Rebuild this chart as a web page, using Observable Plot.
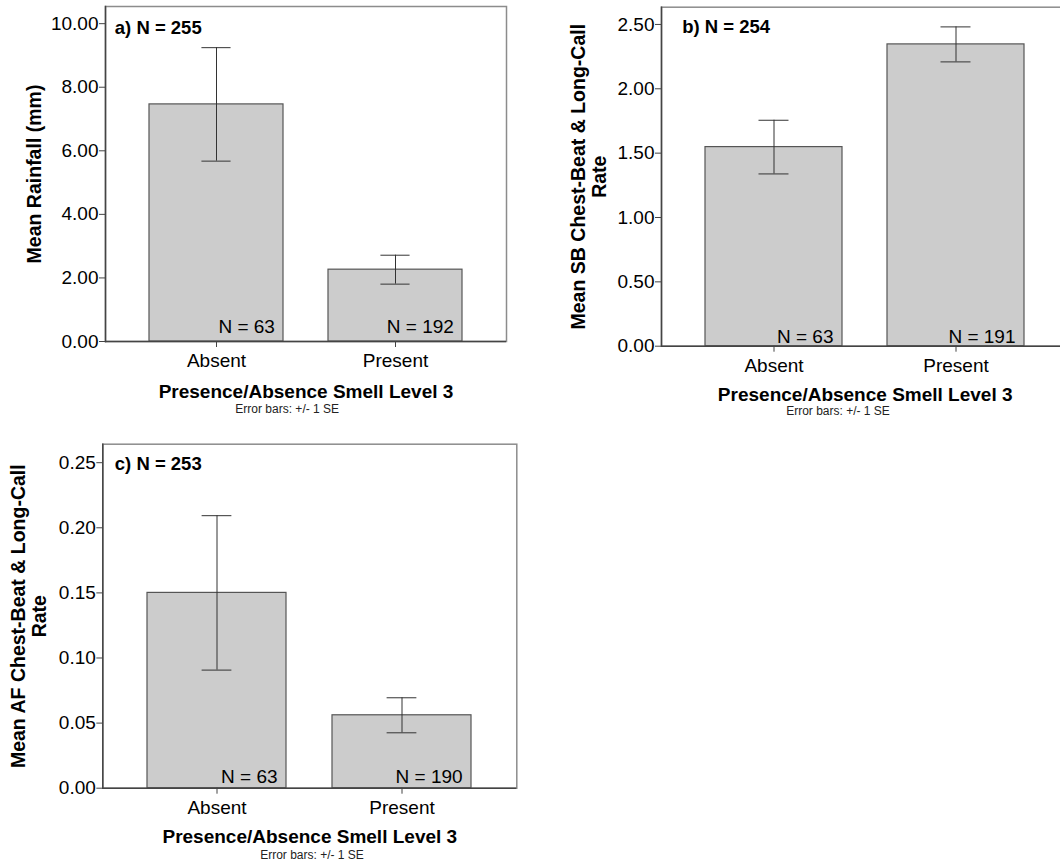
<!DOCTYPE html>
<html>
<head>
<meta charset="utf-8">
<script src="https://cdn.jsdelivr.net/npm/d3@7"></script>
<script src="https://cdn.jsdelivr.net/npm/@observablehq/plot@0.6"></script>
<style>
  html, body { margin: 0; padding: 0; background: #fff; overflow: hidden; }
  #wrap { position: relative; width: 1060px; height: 863px; overflow: hidden; background: #fff; }
  .panel { position: absolute; }
</style>
</head>
<body>
<div id="wrap"></div>
<script>
// ---- data ----
const categories = ["Absent", "Present"];

const rainMean = [7.46, 2.26];
const rainSE = [1.785, 0.455];
const rainN = [63, 192];

const sbMean = [1.547, 2.345];
const sbSE = [0.2085, 0.136];
const sbN = [63, 191];

const afMean = [0.150, 0.056];
const afSE = [0.0593, 0.01345];
const afN = [63, 190];

const panelLabels = ["a) N = 255", "b) N = 254", "c) N = 253"];
const yTitles = [
  "Mean Rainfall (mm)",
  "Mean SB Chest-Beat & Long-Call\nRate",
  "Mean AF Chest-Beat & Long-Call\nRate"
];
const xTitle = "Presence/Absence Smell Level 3";
const caption = "Error bars: +/- 1 SE";

const yTicksA = [0, 2, 4, 6, 8, 10];
const yTicksB = [0, 0.5, 1, 1.5, 2, 2.5];
const yTicksC = [0, 0.05, 0.1, 0.15, 0.2, 0.25];
const yMaxA = 10.54, yMaxB = 2.634, yMaxC = 0.2642;

// ---- layout ----
const FONT = "'Liberation Sans', Arial, Helvetica, sans-serif";
const PI = 0.25, PO = 0.24;

function table(means, ses, ns) {
  return categories.map((c, i) => ({cat: c, mean: means[i], lo: means[i] - ses[i], hi: means[i] + ses[i], n: ns[i]}));
}

function panel(data, label, ytitle, ticks, ymax, L) {
  const frameW = L.width - L.mL - L.mR;
  const step = frameW / (categories.length - PI + 2 * PO);
  const bw = step * (1 - PI);
  const capInset = (bw - 30) / 2;
  const chart = Plot.plot({
    width: L.width,
    height: L.height,
    marginLeft: L.mL,
    marginRight: L.mR,
    marginTop: L.mT,
    marginBottom: L.mB,
    style: {fontFamily: FONT, color: "#000", background: "transparent", overflow: "visible"},
    x: {domain: categories, paddingInner: PI, paddingOuter: PO, axis: null},
    y: {domain: [0, ymax], axis: null},
    marks: [
      Plot.frame({stroke: "#8c8c8c", strokeWidth: 1.5}),
      Plot.barY(data, {x: "cat", y: "mean", fill: "#cccccc", stroke: "#555", strokeWidth: 1.2}),
      Plot.ruleX(data, {x: "cat", y1: "lo", y2: "hi", stroke: "#333", strokeWidth: 1}),
      Plot.tickY(data, {x: "cat", y: "hi", stroke: "#333", strokeWidth: 1, insetLeft: capInset, insetRight: capInset}),
      Plot.tickY(data, {x: "cat", y: "lo", stroke: "#333", strokeWidth: 1, insetLeft: capInset, insetRight: capInset}),
      Plot.text(data, {x: "cat", y: () => 0, text: d => `N = ${d.n}`, textAnchor: "end", lineAnchor: "top",
        dx: bw / 2 - 9, dy: L.nDy, fontSize: 19, fill: "#000"}),
      Plot.ruleY([0], {stroke: "#444", strokeWidth: 1.5}),
      Plot.frame({anchor: "left", stroke: "#444", strokeWidth: 1.5}),
      Plot.axisY({ticks: ticks, tickFormat: d3.format(".2f"), tickSize: 6, tickPadding: 1, fontSize: 19, label: null, stroke: "#444"}),
      Plot.axisX({tickSize: 6, tickPadding: 6, fontSize: 19, label: null, stroke: "#444"}),
      Plot.text([label], {frameAnchor: "top-left", textAnchor: "start", lineAnchor: "top", dx: L.labelDx, dy: L.labelDy,
        fontSize: 18.5, fontWeight: "bold", fill: "#000"}),
      Plot.text([ytitle], {frameAnchor: "left", rotate: -90, textAnchor: "middle", lineAnchor: "middle", lineHeight: 1.08,
        dx: L.yTitleDx, fontSize: 19.5, fontWeight: "bold", fill: "#000"}),
      Plot.text([xTitle], {frameAnchor: "bottom", textAnchor: "middle", lineAnchor: "top", dy: L.titleDy,
        fontSize: 19, fontWeight: "bold", fill: "#000"}),
      Plot.text([caption], {frameAnchor: "bottom", textAnchor: "middle", lineAnchor: "top", dx: L.capDx, dy: L.capDy,
        fontSize: 12, fill: "#222"})
    ]
  });
  chart.classList.add("panel");
  chart.style.left = L.left + "px";
  chart.style.top = L.top + "px";
  document.getElementById("wrap").appendChild(chart);
}

panel(table(rainMean, rainSE, rainN), panelLabels[0], yTitles[0], yTicksA, yMaxA,
  {left: 0, top: 0, width: 530, height: 420, mL: 105, mR: 24, mT: 6, mB: 79,
   yTitleDx: -71, labelDx: 9.3, labelDy: 14.7, nDy: -22, titleDy: 42.8, capDx: -18.8, capDy: 62.5});

panel(table(sbMean, sbSE, sbN), panelLabels[1], yTitles[1], yTicksB, yMaxB,
  {left: 560, top: 0, width: 520, height: 420, mL: 101, mR: 11.6, mT: 6.7, mB: 74.3,
   yTitleDx: -73, labelDx: 20.7, labelDy: 12.6, nDy: -16.7, titleDy: 41, capDx: -27.2, capDy: 60});

panel(table(afMean, afSE, afN), panelLabels[2], yTitles[2], yTicksC, yMaxC,
  {left: 0, top: 420, width: 530, height: 443, mL: 102.3, mR: 13.7, mT: 23.7, mB: 75.3,
   yTitleDx: -74, labelDx: 12, labelDy: 13, nDy: -18.7, titleDy: 41.6, capDx: 2.2, capDy: 62.3});
</script>
</body>
</html>
